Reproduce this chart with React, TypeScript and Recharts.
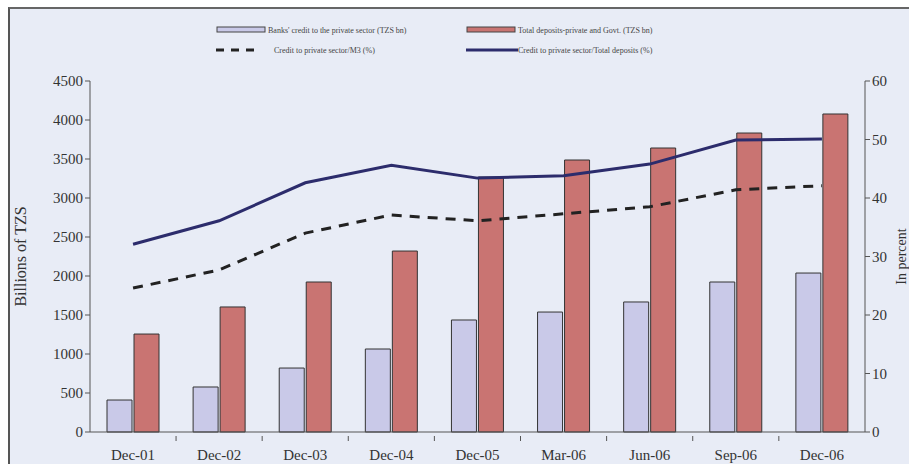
import {
  ComposedChart, Bar, Line, XAxis, YAxis, Legend,
} from "recharts";

const periods = ["Dec-01", "Dec-02", "Dec-03", "Dec-04", "Dec-05", "Mar-06", "Jun-06", "Sep-06", "Dec-06"];
const privateCredit = [410, 577, 820, 1064, 1436, 1538, 1667, 1923, 2038];
const totalDeposits = [1256, 1603, 1923, 2320, 3269, 3487, 3641, 3833, 4077];
const creditToM3 = [24.6, 27.7, 34.0, 37.1, 36.1, 37.3, 38.5, 41.4, 42.1];
const creditToDeposits = [32.1, 36.1, 42.6, 45.6, 43.4, 43.8, 45.8, 49.9, 50.1];
const leftTicks = [0, 500, 1000, 1500, 2000, 2500, 3000, 3500, 4000, 4500];
const rightTicks = [0, 10, 20, 30, 40, 50, 60];

const data = periods.map((p, i) => ({
  period: p,
  credit: privateCredit[i],
  deposits: totalDeposits[i],
  m3: creditToM3[i],
  dep: creditToDeposits[i],
}));

const FONT = "'Liberation Serif', 'DejaVu Serif', serif";
const BAR_BLUE = "#c9c9e8";
const BAR_RED = "#c97472";
const NAVY = "#2c2c6c";

/** legend drawn as two rows, like the scanned original */
function ChartLegend() {
  const txt = { fontSize: 8, color: "#444", fontFamily: FONT, whiteSpace: "nowrap" as const };
  const row = { display: "flex", alignItems: "center", height: 20 };
  return (
    <div style={{ display: "grid", gridTemplateColumns: "250px 250px" }}>
      <div style={row}>
        <svg width={52} height={8}><rect x={1} y={1} width={48} height={5} fill={BAR_BLUE} stroke="#444" /></svg>
        <span style={txt}>Banks' credit to the private sector (TZS bn)</span>
      </div>
      <div style={row}>
        <svg width={52} height={8}><rect x={1} y={1} width={48} height={5} fill={BAR_RED} stroke="#444" /></svg>
        <span style={txt}>Total deposits-private and Govt. (TZS bn)</span>
      </div>
      <div style={row}>
        <svg width={52} height={8}><line x1={0} y1={4} x2={44} y2={4} stroke="#222" strokeWidth={3} strokeDasharray="8 7" /></svg>
        <span style={{ ...txt, marginLeft: 6 }}>Credit to private sector/M3 (%)</span>
      </div>
      <div style={row}>
        <svg width={52} height={8}><line x1={0} y1={4} x2={52} y2={4} stroke={NAVY} strokeWidth={3} /></svg>
        <span style={txt}>Credit to private sector/Total deposits (%)</span>
      </div>
    </div>
  );
}

/** category label with the tick mark sitting between categories */
function CategoryTick(props: any) {
  const { x, y, payload, index } = props;
  const half = 43;
  return (
    <g>
      {index < periods.length - 1 && (
        <line x1={x + half} y1={y - 4} x2={x + half} y2={y + 1} stroke="#555" />
      )}
      <text x={x} y={y + 20} textAnchor="middle" fontSize={15} fill="#333" fontFamily={FONT}>
        {payload.value}
      </text>
    </g>
  );
}

export default function App() {
  return (
    <div style={{ position: "absolute", left: 0, top: 0, width: 909, height: 464, background: "#fff" }}>
      <div style={{ position: "absolute", left: 8, top: 7, right: 0, bottom: 0, background: "#e8ecf6", borderLeft: "2px solid #555", borderTop: "2px solid #666" }} />
      <div style={{ position: "absolute", left: 0, top: 0 }}>
        <ComposedChart
          width={909}
          height={464}
          data={data}
          margin={{ top: 81, right: 0, bottom: 0, left: 0 }}
          barSize={25}
          barGap={2}
        >
          <Legend
            content={() => <ChartLegend />}
            layout="horizontal"
            verticalAlign="middle"
            align="center"
            wrapperStyle={{ position: "absolute", top: 20, left: 216, width: 520 }}
          />
          <XAxis
            dataKey="period"
            height={32}
            tick={<CategoryTick />}
            tickLine={false}
            axisLine={{ stroke: "#555" }}
            interval={0}
          />
          <YAxis
            yAxisId="left"
            width={90}
            domain={[0, 4500]}
            ticks={leftTicks}
            tick={{ fontSize: 15, fill: "#333", fontFamily: FONT }}
            tickSize={5}
            axisLine={{ stroke: "#555" }}
            tickLine={{ stroke: "#555" }}
            label={{ value: "Billions of TZS", angle: -90, position: "insideLeft", offset: 20, style: { fontSize: 16, fill: "#333", fontFamily: FONT, textAnchor: "middle" } }}
          />
          <YAxis
            yAxisId="right"
            orientation="right"
            width={44}
            domain={[0, 60]}
            ticks={rightTicks}
            tick={{ fontSize: 15, fill: "#333", fontFamily: FONT }}
            tickSize={5}
            axisLine={{ stroke: "#555" }}
            tickLine={{ stroke: "#555" }}
            label={{ value: "In percent", angle: -90, position: "insideRight", offset: 8, style: { fontSize: 14, fill: "#333", fontFamily: FONT, textAnchor: "middle" } }}
          />
          <Bar yAxisId="left" dataKey="credit" fill={BAR_BLUE} stroke="#333" strokeWidth={1} isAnimationActive={false} />
          <Bar yAxisId="left" dataKey="deposits" fill={BAR_RED} stroke="#333" strokeWidth={1} isAnimationActive={false} />
          <Line yAxisId="right" dataKey="m3" stroke="#222" strokeWidth={3} strokeDasharray="10 8" dot={false} isAnimationActive={false} />
          <Line yAxisId="right" dataKey="dep" stroke={NAVY} strokeWidth={3} dot={false} isAnimationActive={false} />
        </ComposedChart>
      </div>
    </div>
  );
}
